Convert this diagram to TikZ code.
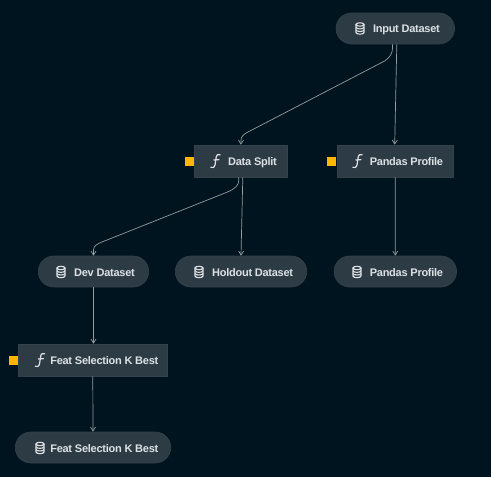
\documentclass[tikz,border=0pt]{standalone}
\usepackage{fontspec}
\setmainfont{Liberation Sans}[LetterSpace=-2.4]
\usetikzlibrary{arrows.meta}
\definecolor{pagebg}{HTML}{00141F}
\definecolor{boxfill}{HTML}{2D3B45}
\definecolor{boxedge}{HTML}{33424B}
\definecolor{labeltext}{HTML}{DDE1E4}
\definecolor{linkline}{HTML}{969C9F}
\definecolor{marker}{HTML}{FFB600}
\tikzset{
	dbicon/.pic={
		\draw[labeltext,line width=1.1pt] (-4,-4) -- (-4,4) arc[start angle=180,end angle=0,x radius=4,y radius=1.7] -- (4,-4);
		\draw[labeltext,line width=1.1pt] (0,-4) ellipse[x radius=4,y radius=1.7];
		\draw[labeltext,line width=1.1pt] (-4,-1.3) arc[start angle=180,end angle=0,x radius=4,y radius=1.7];
		\draw[labeltext,line width=1.1pt] (-4,1.3) arc[start angle=180,end angle=0,x radius=4,y radius=1.7];
	},
	fnicon/.pic={
		\draw[labeltext,line width=1.2pt] (5,-6.3) .. controls (2.5,-7.5) and (1,-6) .. (0.5,-3) -- (-0.3,3)
			.. controls (-0.8,6.5) and (-3,7.5) .. (-5,6.3);
		\draw[labeltext,line width=1.2pt] (-2,-1) .. controls (0,-1.8) and (2,-0.6) .. (3.8,-1.4);
	}
}
\begin{document}
\begin{tikzpicture}[
		x=1pt,y=-1pt,
		databox/.style={draw=boxedge,fill=boxfill,line width=0.6pt,rounded corners=15.5pt,minimum height=31pt,inner sep=0pt},
		funcbox/.style={draw=boxedge,fill=boxfill,line width=0.6pt,minimum height=32pt,inner sep=0pt},
		boxlabel/.style={text=labeltext,font=\fontsize{11}{12}\selectfont\bfseries,anchor=base east,inner sep=0pt},
		runmark/.style={fill=marker,draw=none,minimum size=9pt,inner sep=0pt},
		link/.style={draw=linkline,line width=0.7pt,-{Straight Barb[length=4pt,width=5pt]}}
	]
		\useasboundingbox (0,0) rectangle (491,477);
		\fill[pagebg] (0,0) rectangle (491,477);

		% boxes
		\node[databox,minimum width=118.5pt] (input) at (395.3,28.5) {};
		\node[funcbox,minimum width=93.5pt] (split) at (240.8,161) {};
		\node[funcbox,minimum width=116.5pt] (profile) at (395.2,161) {};
		\node[databox,minimum width=110.5pt] (dev) at (93.5,271.5) {};
		\node[databox,minimum width=131.5pt] (holdout) at (241,271.5) {};
		\node[databox,minimum width=122.5pt] (report) at (395.3,271.5) {};
		\node[funcbox,minimum width=149.5pt] (feat) at (92.8,360) {};
		\node[databox,minimum width=155.5pt] (featout) at (93,447.5) {};

		% labels
		\node[boxlabel] (inputtext) at (440,32) {Input Dataset};
		\node[boxlabel] (splittext) at (277,165) {Data Split};
		\node[boxlabel] (profiletext) at (443.3,165) {Pandas Profile};
		\node[boxlabel] (devtext) at (135,276) {Dev Dataset};
		\node[boxlabel] (holdouttext) at (293.3,276) {Holdout Dataset};
		\node[boxlabel] (reporttext) at (443.3,276) {Pandas Profile};
		\node[boxlabel] (feattext) at (158.5,364) {Feat Selection K Best};
		\node[boxlabel] (featouttext) at (158.5,452) {Feat Selection K Best};

		% icons
		\pic at (360,28.5) {dbicon};
		\pic at (61,272) {dbicon};
		\pic at (199,272) {dbicon};
		\pic at (357,272) {dbicon};
		\pic at (40,448) {dbicon};
		\pic at (215.5,161) {fnicon};
		\pic at (357.5,161) {fnicon};
		\pic at (40,360) {fnicon};

		% markers
		\node[runmark] (splitmark) at (189.5,161) {};
		\node[runmark] (profilemark) at (331.5,161) {};
		\node[runmark] (featmark) at (13.5,360) {};

		% links
		\draw[link] ([xshift=-2.8pt]input.south) -- ++(0,4) .. controls +(0,5) and (390,57) .. (385,60.8)
			-- (248,132) .. controls (244,134) and (241,136.5) .. (241,140) -- (split.north);
		\draw[link] ([xshift=1.5pt]input.south) -- ([xshift=-0.5pt]profile.north);
		\draw[link] ([xshift=-2pt]split.south) -- ++(0,3) .. controls +(0,5) and (235,189) .. (227,192.2)
			-- (102,242) .. controls (97,244) and (93.5,246) .. (93.5,250) -- (dev.north);
		\draw[link] ([xshift=2pt]split.south) -- (holdout.north);
		\draw[link] (profile.south) -- (report.north);
		\draw[link] (dev.south) -- (feat.north -| dev.south);
		\draw[link] (feat.south) -- (featout.north);
	\end{tikzpicture}
\end{document}
